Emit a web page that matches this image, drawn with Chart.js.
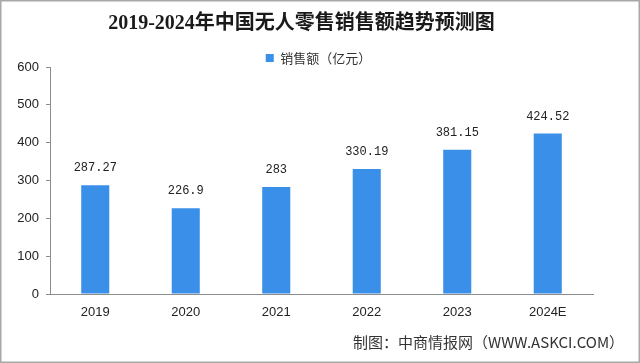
<!DOCTYPE html>
<html>
<head>
<meta charset="utf-8">
<script src="https://cdn.jsdelivr.net/npm/chart.js@4/dist/chart.umd.min.js"></script>
<style>
html,body{margin:0;padding:0;background:#fff;}
#wrap{width:640px;height:363px;position:relative;}
</style>
</head>
<body>
<div id="wrap"><canvas id="c" width="640" height="363"></canvas></div>
<script>
const categories = ['2019', '2020', '2021', '2022', '2023', '2024E'];
const salesValues = [287.27, 226.9, 283, 330.19, 381.15, 424.52];
const valueLabels = ['287.27', '226.9', '283', '330.19', '381.15', '424.52'];
const yTicks = [0, 100, 200, 300, 400, 500, 600];
const seriesName = '销售额（亿元）';
const chartTitle = '2019-2024年中国无人零售销售额趋势预测图';
const sourceText = '制图：中商情报网（WWW.ASKCI.COM）';

const frameAndText = {
  id: 'frameAndText',
  afterInit(chart) {
    const lg = chart.legend;
    if (lg && !lg._trimmed) {
      const f = lg.fit;
      lg.fit = function () { f.call(this); this.height -= 7.5; };
      lg._trimmed = true;
    }
  },
  afterLayout(chart) {
    const lg = chart.legend;
    if (lg) { lg.left += 22; lg.right += 22; }
    const tb = chart.titleBlock;
    if (tb) { tb.left += 5; tb.right += 5; }
  },
  beforeDraw(chart) {
    const ctx = chart.ctx;
    ctx.save();
    ctx.fillStyle = '#ffffff';
    ctx.fillRect(0, 0, chart.width, chart.height);
    ctx.restore();
  },
  afterDatasetsDraw(chart) {
    const ctx = chart.ctx;
    const meta = chart.getDatasetMeta(0);
    ctx.save();
    ctx.font = '12px "Liberation Mono", "DejaVu Sans Mono", monospace';
    ctx.fillStyle = '#222';
    ctx.textAlign = 'center';
    ctx.textBaseline = 'middle';
    meta.data.forEach((bar, i) => {
      ctx.fillText(valueLabels[i], bar.x, bar.y - 17);
    });
    ctx.restore();
  },
  afterDraw(chart) {
    const ctx = chart.ctx;
    ctx.save();
    ctx.font = '15px "Noto Sans CJK SC", sans-serif';
    ctx.fillStyle = '#333';
    ctx.textAlign = 'left';
    ctx.textBaseline = 'middle';
    ctx.fillText(sourceText, 353, 342);
    ctx.strokeStyle = '#a8a8a8';
    ctx.lineWidth = 1.5;
    ctx.strokeRect(0.75, 0.75, chart.width - 1.5, chart.height - 1.5);
    ctx.restore();
  }
};

new Chart(document.getElementById('c'), {
  type: 'bar',
  data: {
    labels: categories,
    datasets: [{
      label: seriesName,
      data: salesValues,
      backgroundColor: '#3A8FE8',
      borderWidth: 0,
      barPercentage: 0.31,
      categoryPercentage: 1.0
    }]
  },
  options: {
    responsive: false,
    animation: false,
    devicePixelRatio: 1,
    layout: { padding: { left: 0, right: 47, top: 0, bottom: 0 } },
    plugins: {
      title: {
        display: true,
        text: chartTitle,
        color: '#1a1a1a',
        font: { family: '"Liberation Serif", "Noto Sans CJK SC", serif', size: 20, weight: 'bold' },
        padding: { top: 12, bottom: 7.5 }
      },
      legend: {
        display: true,
        position: 'top',
        labels: {
          boxWidth: 8,
          boxHeight: 8,
          padding: 8,
          color: '#333',
          font: { family: '"Noto Sans CJK SC", sans-serif', size: 13 }
        }
      },
      tooltip: { enabled: false }
    },
    scales: {
      x: {
        grid: { display: true, drawOnChartArea: false, drawTicks: false },
        border: { display: true, color: '#8c8c8c', width: 1 },
        ticks: {
          color: '#222',
          padding: 11,
          font: { family: '"Liberation Sans", Arial, sans-serif', size: 13 }
        },
        afterFit(scale) { scale.height = 69; }
      },
      y: {
        min: 0,
        max: 600,
        afterBuildTicks(scale) { scale.ticks = yTicks.map(v => ({ value: v })); },
        grid: { display: true, drawOnChartArea: false, drawTicks: true, tickLength: 4, color: '#8c8c8c' },
        border: { display: true, color: '#8c8c8c', width: 1 },
        ticks: {
          color: '#222',
          padding: 7,
          font: { family: '"Liberation Sans", Arial, sans-serif', size: 13 }
        },
        afterFit(scale) { scale.width = 50; }
      }
    }
  },
  plugins: [frameAndText]
});
</script>
</body>
</html>
